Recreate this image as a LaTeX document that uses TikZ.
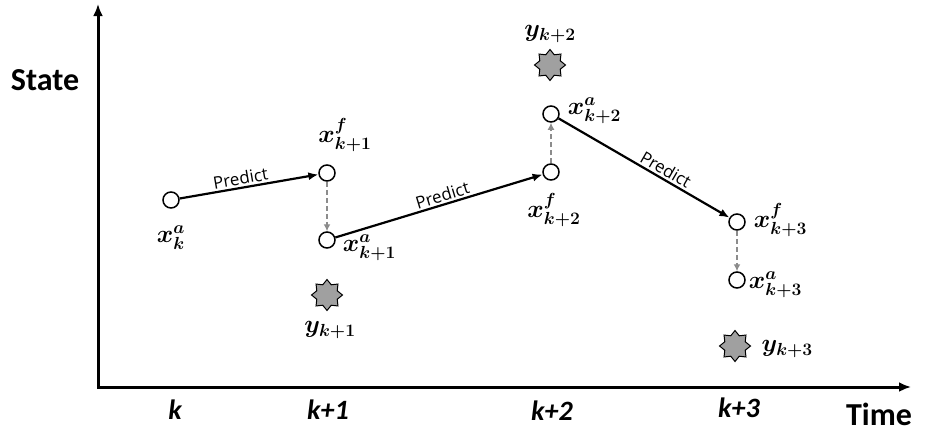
\RequirePackage{fix-cm}
\documentclass[tikz,border=0pt]{standalone}
\usepackage{fontspec}
\usepackage{amsmath,bm}
\usepackage{tikz}
\usetikzlibrary{shapes.geometric,arrows.meta,positioning}
\newfontfamily\labfont{Carlito}
\newfontfamily\predfont{Open Sans}
\definecolor{stargray}{RGB}{160,160,160}
\definecolor{updgray}{RGB}{140,140,140}

\begin{document}
\begin{tikzpicture}[
  x=1pt, y=-1pt,
  state/.style = {circle, draw, line width=1.5pt, fill=white,
                  minimum size=16pt, inner sep=0pt},
  obs/.style = {star, star points=8, star point ratio=1.4, draw,
                line width=1pt, fill=stargray, minimum size=31pt, inner sep=0pt},
  lab/.style = {inner sep=0pt, font=\fontsize{25}{27}\selectfont},
  tick/.style = {font=\labfont\bfseries\itshape\fontsize{28}{30}\selectfont},
  axlabel/.style = {font=\labfont\bfseries\fontsize{32}{34}\selectfont},
  predict/.style = {-{Latex[length=10pt,width=8pt]}, line width=2.2pt},
  update/.style = {-{Latex[length=7pt,width=7pt]}, line width=2.2pt,
                   color=updgray, dash pattern=on 5pt off 3pt},
  plabel/.style = {font=\predfont\fontsize{17}{19}\selectfont, sloped,
                   above, inner sep=2pt},
  axis/.style = {{Latex[length=12pt,width=10pt]}-{Latex[length=12pt,width=10pt]},
                 line width=3pt},
]
\useasboundingbox (0,0) rectangle (926,434);

% axes
\coordinate (origin) at (98,387);
\coordinate (ytip) at (98,4);
\coordinate (xtip) at (911,387);
\draw[axis] (ytip) -- (origin) -- (xtip);
\node[axlabel] (statelab) at (45,80) {State};
\node[axlabel] (timelab) at (879,414) {Time};

\node[tick] (tk)  at (175,410) {k};
\node[tick] (tk1) at (328,410) {k+1};
\node[tick] (tk2) at (552,411) {k+2};
\node[tick] (tk3) at (739,408) {k+3};

% states
\node[state] (xka)  at (171,200) {};
\node[state] (xkf1) at (327,173) {};
\node[state] (xka1) at (327,240) {};
\node[state] (xkf2) at (551,172) {};
\node[state] (xka2) at (551,114) {};
\node[state] (xkf3) at (737,222) {};
\node[state] (xka3) at (737,280) {};

% observations
\node[obs] (yk1) at (327,295) {};
\node[obs] (yk2) at (550,65) {};
\node[obs] (yk3) at (735,346) {};

% labels
\node[lab, below=17pt of xka] (lxka) {$\bm{x}^{\bm{a}}_{\bm{k}}$};
\node[lab, above=12pt of xkf1, xshift=18pt] (lxkf1) {$\bm{x}^{\bm{f}}_{\bm{k+1}}$};
\node[lab, right=7pt of xka1, yshift=-8pt] (lxka1) {$\bm{x}^{\bm{a}}_{\bm{k+1}}$};
\node[lab, below=10pt of yk1, xshift=3pt] (lyk1) {$\bm{y}_{\bm{k+1}}$};
\node[lab, above=6pt of yk2] (lyk2) {$\bm{y}_{\bm{k+2}}$};
\node[lab, right=8pt of xka2, yshift=3pt] (lxka2) {$\bm{x}^{\bm{a}}_{\bm{k+2}}$};
\node[lab, below=12pt of xkf2, xshift=3pt] (lxkf2) {$\bm{x}^{\bm{f}}_{\bm{k+2}}$};
\node[lab, right=8pt of xkf3, yshift=2pt] (lxkf3) {$\bm{x}^{\bm{f}}_{\bm{k+3}}$};
\node[lab, right=3pt of xka3, yshift=-5pt] (lxka3) {$\bm{x}^{\bm{a}}_{\bm{k+3}}$};
\node[lab, right=10pt of yk3, yshift=-3pt] (lyk3) {$\bm{y}_{\bm{k+3}}$};

% predict and update steps
\draw[predict] (xka) -- node[plabel, pos=.45] (p1) {Predict} (xkf1);
\draw[predict] (xka1) -- node[plabel, pos=.53] (p2) {Predict} (xkf2);
\draw[predict] (xka2) -- node[plabel, pos=.6] (p3) {Predict} (xkf3);
\draw[update] (xkf1) -- (xka1);
\draw[update] (xkf2) -- (xka2);
\draw[update] (xkf3) -- (xka3);
\end{tikzpicture}
\end{document}
